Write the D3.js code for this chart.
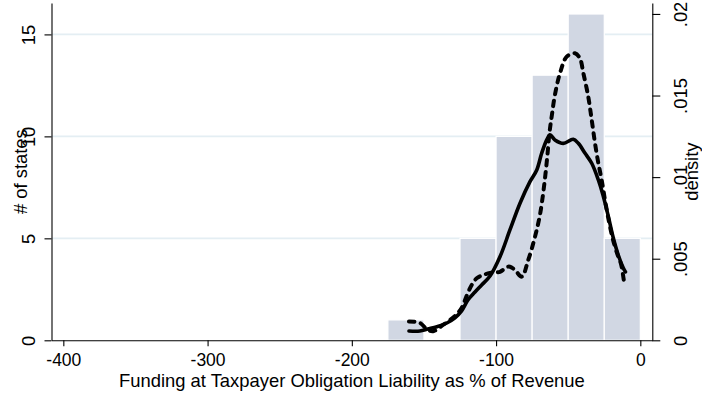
<!DOCTYPE html>
<html>
<head>
<meta charset="utf-8">
<script src="https://cdn.jsdelivr.net/npm/d3@7"></script>
<style>
  html, body { margin: 0; padding: 0; background: #fff; }
  svg { display: block; font-family: "Liberation Sans", Arial, Helvetica, sans-serif; }
</style>
</head>
<body>
<svg id="chart" width="702" height="393"></svg>
<script>
// Histogram: bin left edges (bin width 25) and number of states in each bin
const binStarts = [-175, -125, -100, -75, -50, -25];
const binWidth = 25;
const binCounts = [1, 5, 10, 13, 16, 5];

// Kernel density estimate, solid curve
const solidX = [-160.4, -152.8, -147.3, -141.0, -134.1, -128.5, -123.9, -119.5, -114.6, -110.0,
  -104.2, -97.3, -90.4, -83.4, -76.5, -71.8, -68.4, -64.9, -62.6, -59.2,
  -53.4, -46.5, -43.0, -38.3, -33.7, -29.1, -25.9, -22.4, -18.9, -15.3, -11.8, -10.3];
const solidDensity = [0.00057, 0.00057, 0.00069, 0.00083, 0.00106, 0.00137, 0.00180, 0.00247, 0.00296, 0.00339,
  0.00394, 0.00512, 0.00676, 0.00840, 0.00972, 0.01044, 0.01146, 0.01228, 0.01259, 0.01228,
  0.01207, 0.01232, 0.01207, 0.01146, 0.01085, 0.00983, 0.00891, 0.00768, 0.00633, 0.00523, 0.00443, 0.00419];

// Kernel density estimate, dashed curve
const dashedX = [-160.4, -152.8, -147.3, -143.1, -136.8, -128.5, -123.9, -120.4, -116.9, -113.2,
  -108.9, -104.2, -97.3, -92.6, -90.4, -86.9, -82.2, -77.7, -73.0, -69.6,
  -66.9, -64.6, -63.0, -61.3, -59.2, -55.7, -51.0, -45.3, -41.9, -39.5,
  -36.1, -33.7, -31.4, -29.1, -26.8, -24.5, -21.7, -18.9, -15.5, -13.4, -11.0];
const dashedDensity = [0.00115, 0.00106, 0.00063, 0.00057, 0.00094, 0.00149, 0.00198, 0.00272, 0.00339, 0.00382,
  0.00400, 0.00413, 0.00420, 0.00449, 0.00451, 0.00431, 0.00390, 0.00492, 0.00635, 0.00768,
  0.00933, 0.01117, 0.01271, 0.01381, 0.01504, 0.01637, 0.01738, 0.01759, 0.01728, 0.01637,
  0.01493, 0.01350, 0.01207, 0.01085, 0.00983, 0.00860, 0.00725, 0.00615, 0.00517, 0.00468, 0.00339];

// Axis ticks
const xTicks = [-400, -300, -200, -100, 0];
const xTickLabels = ["-400", "-300", "-200", "-100", "0"];
const countTicks = [0, 5, 10, 15];
const densityTicks = [0, 0.005, 0.01, 0.015, 0.02];
const densityTickLabels = ["0", ".005", ".01", ".015", ".02"];

const xTitle = "Funding at Taxpayer Obligation Liability as % of Revenue";
const countTitle = "# of states";
const densityTitle = "density";

// Plot region
const plot = { left: 51.5, right: 652.3, top: 3, bottom: 340.3 };
const fontSize = 18.4;
const xTickFontSize = 17.5;

const svg = d3.select("#chart");

const x = d3.scaleLinear().domain([-408.2, 8.3]).range([plot.left, plot.right]);
const yCount = d3.scaleLinear().domain([0, 16.54]).range([plot.bottom, plot.top]);
const yDensity = d3.scaleLinear().domain([0, 0.02067]).range([plot.bottom, plot.top]);

// Horizontal grid lines at the count ticks
svg.append("g")
  .selectAll("line")
  .data(countTicks.filter(d => d > 0))
  .join("line")
  .attr("x1", plot.left).attr("x2", plot.right)
  .attr("y1", d => yCount(d)).attr("y2", d => yCount(d))
  .attr("stroke", "#e4eef3")
  .attr("stroke-width", 1.6);

// Histogram bars
const bins = binStarts.map((s, i) => ({ x0: s, x1: s + binWidth, n: binCounts[i] }));
svg.append("g")
  .selectAll("rect")
  .data(bins)
  .join("rect")
  .attr("x", d => x(d.x0))
  .attr("width", d => x(d.x1) - x(d.x0))
  .attr("y", d => yCount(d.n))
  .attr("height", d => yCount(0) - yCount(d.n))
  .attr("fill", "#d1d7e3")
  .attr("stroke", "#ffffff")
  .attr("stroke-width", 1.2);

// Density curves
const densityLine = d3.line()
  .x(d => x(d[0]))
  .y(d => yDensity(d[1]))
  .curve(d3.curveCatmullRom.alpha(0.5));

svg.append("path")
  .datum(solidX.map((v, i) => [v, solidDensity[i]]))
  .attr("d", densityLine)
  .attr("fill", "none")
  .attr("stroke", "#000")
  .attr("stroke-width", 3.6)
  .attr("stroke-linecap", "round")
  .attr("stroke-linejoin", "round");

svg.append("path")
  .datum(dashedX.map((v, i) => [v, dashedDensity[i]]))
  .attr("d", densityLine)
  .attr("fill", "none")
  .attr("stroke", "#000")
  .attr("stroke-width", 4)
  .attr("stroke-dasharray", "5.5,6.5")
  .attr("stroke-linecap", "round")
  .attr("stroke-linejoin", "round");

// Axes
function styleAxis(g, size) {
  g.select(".domain").attr("stroke", "#000").attr("stroke-width", 1.1);
  g.selectAll(".tick line").attr("stroke", "#000").attr("stroke-width", 1.1);
  g.selectAll("text").attr("font-size", size).attr("fill", "#000")
    .attr("font-family", "'Liberation Sans', Arial, sans-serif");
}

// Bottom axis
const gx = svg.append("g")
  .attr("transform", `translate(0,${plot.bottom})`)
  .call(d3.axisBottom(x).tickValues(xTicks).tickSize(6).tickSizeOuter(0)
    .tickFormat((d, i) => xTickLabels[i]));
styleAxis(gx, xTickFontSize);
gx.selectAll(".tick text").attr("y", null).attr("dy", null)
  .attr("transform", "translate(0,25.2)");

// Left axis (counts)
const gl = svg.append("g")
  .attr("transform", `translate(${plot.left},0)`)
  .call(d3.axisLeft(yCount).tickValues(countTicks).tickSize(7).tickSizeOuter(0).tickFormat(d3.format("d")));
styleAxis(gl, fontSize);
gl.selectAll(".tick text")
  .attr("x", null).attr("dy", null)
  .attr("text-anchor", "middle")
  .attr("transform", "translate(-16.5,0) rotate(-90)");

// Right axis (density)
const gr = svg.append("g")
  .attr("transform", `translate(${plot.right},0)`)
  .call(d3.axisRight(yDensity).tickValues(densityTicks).tickSize(8).tickSizeOuter(0)
    .tickFormat((d, i) => densityTickLabels[i]));
styleAxis(gr, fontSize);
gr.selectAll(".tick text")
  .attr("x", null).attr("dy", null)
  .attr("text-anchor", "middle")
  .attr("transform", "translate(35,0) rotate(-90)");

// Axis titles
svg.append("text")
  .attr("x", (plot.left + plot.right) / 2)
  .attr("y", 386.5)
  .attr("text-anchor", "middle")
  .attr("font-size", fontSize)
  .text(xTitle);

svg.append("text")
  .attr("transform", `translate(27,${(plot.top + plot.bottom) / 2}) rotate(-90)`)
  .attr("text-anchor", "middle")
  .attr("font-size", fontSize)
  .text(countTitle);

svg.append("text")
  .attr("transform", `translate(698,${(plot.top + plot.bottom) / 2}) rotate(-90)`)
  .attr("text-anchor", "middle")
  .attr("font-size", fontSize)
  .text(densityTitle);
</script>
</body>
</html>
